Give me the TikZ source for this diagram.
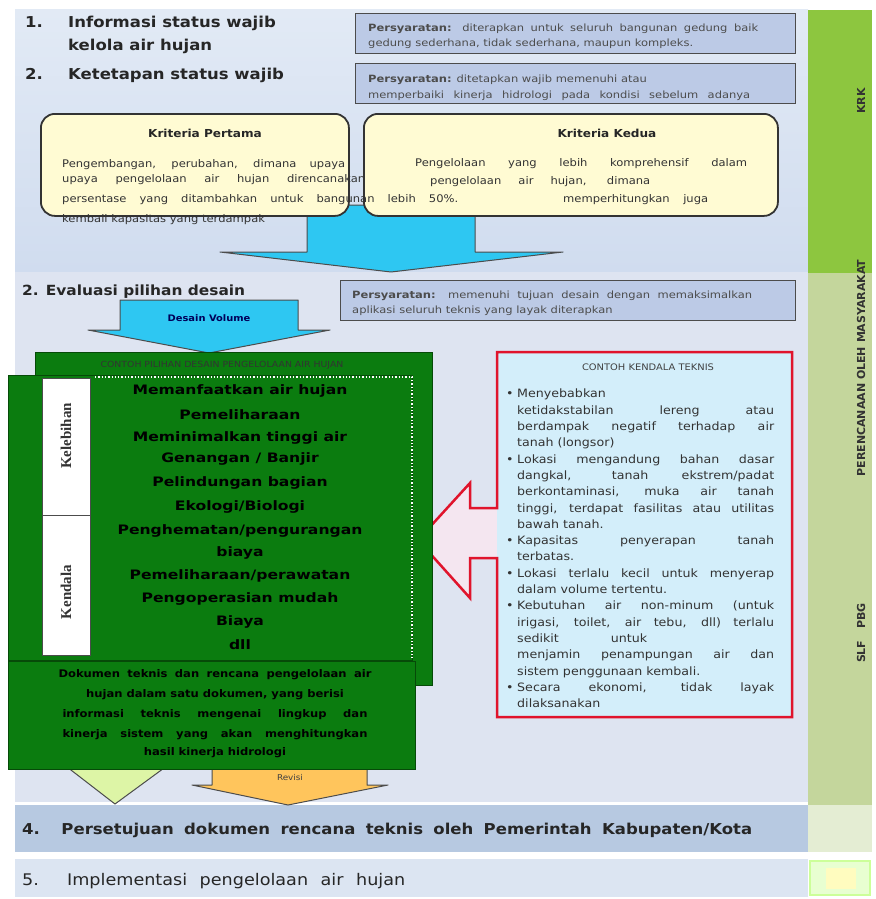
\documentclass[tikz,border=0pt]{standalone}
\usepackage{fontspec}
\setmainfont{DejaVu Sans}
\newfontfamily\serifbf{Liberation Serif}
\newfontfamily\wfA[FakeStretch=1.15]{DejaVu Sans}
\newfontfamily\wfB[FakeStretch=1.2]{DejaVu Sans}
\newfontfamily\wfC[FakeStretch=1.1]{DejaVu Sans}
\definecolor{bandA}{HTML}{D0DCEF}
\definecolor{bandAtop}{HTML}{E2EAF5}
\definecolor{bandB}{HTML}{DEE4F1}
\definecolor{bandC}{HTML}{B7C9E1}
\definecolor{bandD}{HTML}{DCE5F2}
\definecolor{noteF}{HTML}{BCCAE6}
\definecolor{colGa}{HTML}{8DC63F}
\definecolor{colGb}{HTML}{C4D69C}
\definecolor{colGc}{HTML}{E4EDD3}
\definecolor{colGd}{HTML}{CCFF99}
\definecolor{kritF}{HTML}{FFFBD3}
\definecolor{cyanA}{HTML}{2EC7F2}
\definecolor{grn}{HTML}{0B7C0F}
\definecolor{grnD}{HTML}{064A08}
\definecolor{redB}{HTML}{E0142C}
\definecolor{callF}{HTML}{D3EEFA}
\definecolor{pinkF}{HTML}{F4E6F0}
\definecolor{lgA}{HTML}{DDF5A6}
\definecolor{orA}{HTML}{FFC55C}
\newcommand\cbul{\makebox[11pt][l]{\textbullet}}
\newcommand\cnob{\makebox[11pt][l]{}}
\newcommand\cjus[1]{\makebox[257pt][s]{#1}}
\newcommand\clft[1]{\makebox[257pt][l]{#1}}
\begin{document}
\begin{tikzpicture}[x=1pt,y=-1pt,
  head/.style={inner sep=0pt, anchor=base west, text=black!85, font=\wfC\fontsize{15}{17}\selectfont\bfseries},
  notebox/.style={draw=black!70, line width=1.3pt, fill=noteF, anchor=north west, inner sep=0pt},
  notetxt/.style={inner sep=0pt, anchor=base west, text=black!70, font=\wfA\fontsize{10}{12}\selectfont},
  kritbox/.style={draw=black!80, line width=1.8pt, fill=kritF, rounded corners=14pt, anchor=north west, inner sep=0pt},
  ktxt/.style={inner sep=0pt, anchor=base west, text=black!80, font=\wfC\fontsize{10.5}{12}\selectfont},
  ktitle/.style={inner sep=0pt, text=black!85, font=\wfC\fontsize{11}{13}\selectfont\bfseries},
  grnbox/.style={draw=grnD, line width=1pt, fill=grn, anchor=north west, inner sep=0pt},
  lblbox/.style={draw=black!70, line width=0.8pt, fill=white, anchor=north west, inner sep=0pt},
  lbltxt/.style={rotate=90, inner sep=0pt, text=black!80, font=\serifbf\fontsize{15}{17}\selectfont\bfseries},
  gl/.style={inner sep=0pt, text=black, font=\wfB\fontsize{13}{15}\selectfont\bfseries},
  gb/.style={inner sep=0pt, text=black, font=\wfC\fontsize{10.5}{12}\selectfont\bfseries},
  arrowline/.style={draw=black!70, line width=1pt, line join=round},
  coltxt/.style={rotate=90, inner sep=0pt, text=black!80, font=\fontsize{11}{13}\selectfont\bfseries},
]
\useasboundingbox (0,0) rectangle (875,899);
\fill[white] (0,0) rectangle (875,899);
% bands
\shade[top color=bandAtop, bottom color=bandA] (15,10) rectangle (808,272);
\fill[bandB] (15,272) rectangle (808,802);
\fill[bandC] (15,805) rectangle (808,852);
\fill[bandD] (15,859) rectangle (808,897);
% right column
\fill[colGa] (808,10) rectangle (872,273);
\fill[colGb] (808,273) rectangle (872,805);
\fill[colGc] (808,805) rectangle (872,852);
\draw[colGd, line width=2.5pt, fill=colGd!45] (810,861) rectangle (870,895);
\fill[yellow!25] (826,868) rectangle (856,889);
\node[coltxt] (c1) at (861,101) {KRK};
\node[coltxt] (c2) at (861,368) {PERENCANAAN OLEH MASYARAKAT};
\node[coltxt] (c3) at (861,633) {SLF\hspace{12pt}PBG};

% section 1 and 2 headings
\node[head] (h1n) at (25,28) {1.};
\node[head] (h1) at (68,28) {Informasi status wajib};
\node[head] (h1b) at (68,51) {kelola air hujan};
\node[head] (h2n) at (25,80) {2.};
\node[head] (h2) at (68,80) {Ketetapan status wajib};

% note boxes
\node[notebox, minimum width=440pt, minimum height=40pt] (n1) at (355,13) {};
\node[notetxt] (n1a) at (368,32) {\makebox[390pt][s]{\textbf{Persyaratan:} diterapkan untuk seluruh bangunan gedung baik}};
\node[notetxt] (n1b) at (368,47) {gedung sederhana, tidak sederhana, maupun kompleks.};
\node[notebox, minimum width=440pt, minimum height=40pt] (n2) at (355,63) {};
\node[notetxt] (n2a) at (368,82) {\textbf{Persyaratan:} ditetapkan wajib memenuhi atau};
\node[notetxt] (n2b) at (368,98) {\makebox[382pt][s]{memperbaiki kinerja hidrologi pada kondisi sebelum adanya}};

% blue arrow under criteria
\path[arrowline, fill=cyanA] (307,205) -- (475,205) -- (475,252) -- (563,252) -- (391,272) -- (220,252) -- (307,252) -- cycle;

% criteria boxes
\node[kritbox, minimum width=308pt, minimum height=102pt] (k1) at (40,113) {};
\node[kritbox, minimum width=414pt, minimum height=102pt] (k2) at (363,113) {};
\node[ktitle] (kt1) at (205,133) {Kriteria Pertama};
\node[ktitle] (kt2) at (607,133) {Kriteria Kedua};
\node[ktxt] (k1a) at (62,167) {\makebox[283pt][s]{Pengembangan, perubahan, dimana upaya}};
\node[ktxt] (k1b) at (62,182) {\makebox[303pt][s]{upaya pengelolaan air hujan direncanakan}};
\node[ktxt] (k1c) at (62,202) {\makebox[396pt][s]{persentase yang ditambahkan untuk bangunan lebih 50\%.}};
\node[ktxt] (k1d) at (62,222) {kembali kapasitas yang terdampak};
\node[ktxt] (k2a) at (415,166) {\makebox[332pt][s]{Pengelolaan yang lebih komprehensif dalam}};
\node[ktxt] (k2b) at (430,184) {\makebox[220pt][s]{pengelolaan air hujan, dimana}};
\node[ktxt] (k2c) at (563,202) {\makebox[145pt][s]{memperhitungkan juga}};

% section 3
\node[head, font=\wfC\fontsize{14}{16}\selectfont\bfseries] (h3) at (22,295) {2. Evaluasi pilihan desain};
\node[notebox, minimum width=455pt, minimum height=40pt] (n3) at (340,280) {};
\node[notetxt] (n3a) at (352,298) {\makebox[400pt][s]{\textbf{Persyaratan:} memenuhi tujuan desain dengan memaksimalkan}};
\node[notetxt] (n3b) at (352,313) {aplikasi seluruh teknis yang layak diterapkan};

% design volume arrow
\path[arrowline, fill=cyanA] (120,300) -- (298,300) -- (298,330) -- (330,330) -- (209,353) -- (88,330) -- (120,330) -- cycle;
\node[inner sep=0pt, text=blue!35!black, font=\wfC\fontsize{9}{11}\selectfont\bfseries] (dv) at (209,318) {Desain Volume};

% callout
\fill[pinkF] (497,352) -- (792,352) -- (792,717) -- (497,717) -- (497,558) -- (470,558) -- (470,598) -- (418,540) -- (470,483) -- (470,508) -- (497,508) -- cycle;
\fill[callF] (497,352) rectangle (792,717);
\draw[redB, line width=2.5pt, line join=miter] (497,352) -- (792,352) -- (792,717) -- (497,717) -- (497,558) -- (470,558) -- (470,598) -- (418,540) -- (470,483) -- (470,508) -- (497,508) -- cycle;
\node[inner sep=0pt, text=black!75, font=\wfC\fontsize{9}{11}\selectfont] (ctt) at (648,367) {CONTOH KENDALA TEKNIS};
\node[anchor=north west, inner sep=0pt, align=left, text=black!80, font=\wfC\fontsize{11.5}{16.3}\selectfont] (ct) at (506,389) {%
\cbul\clft{Menyebabkan}\\
\cnob\cjus{ketidakstabilan lereng atau}\\
\cnob\cjus{berdampak negatif terhadap air}\\
\cnob\clft{tanah (longsor)}\\
\cbul\cjus{Lokasi mengandung bahan dasar}\\
\cnob\cjus{dangkal, tanah ekstrem/padat}\\
\cnob\cjus{berkontaminasi, muka air tanah}\\
\cnob\cjus{tinggi, terdapat fasilitas atau utilitas}\\
\cnob\clft{bawah tanah.}\\
\cbul\cjus{Kapasitas penyerapan tanah}\\
\cnob\clft{terbatas.}\\
\cbul\cjus{Lokasi terlalu kecil untuk menyerap}\\
\cnob\clft{dalam volume tertentu.}\\
\cbul\cjus{Kebutuhan air non-minum (untuk}\\
\cnob\cjus{irigasi, toilet, air tebu, dll) terlalu}\\
\cnob\makebox[130pt][s]{sedikit untuk}\\
\cnob\cjus{menjamin penampungan air dan}\\
\cnob\clft{sistem penggunaan kembali.}\\
\cbul\cjus{Secara ekonomi, tidak layak}\\
\cnob\clft{dilaksanakan}};

% bottom small arrows (behind green box)
\path[arrowline, fill=lgA] (58,760) -- (175,760) -- (115,804) -- cycle;
\path[arrowline, fill=orA] (212,760) -- (367,760) -- (367,785) -- (388,785) -- (288,805) -- (192,785) -- (212,785) -- cycle;
\node[inner sep=0pt, text=black!75, font=\wfC\fontsize{8}{10}\selectfont] (rv) at (290,778) {Revisi};

% green boxes
\node[grnbox, minimum width=397pt, minimum height=333pt] (gback) at (35,352) {};
\node[inner sep=0pt, text=black!80, font=\wfC\fontsize{8.5}{10}\selectfont] (ght) at (222,365) {CONTOH PILIHAN DESAIN PENGELOLAAN AIR HUJAN};
\node[grnbox, minimum width=404pt, minimum height=285pt] (gfront) at (8,375) {};
\draw[white, dotted, line width=1.3pt] (95,377) -- (412,377) -- (412,658);
\node[lblbox, minimum width=48pt, minimum height=137pt] (lb1) at (42,378) {};
\node[lblbox, minimum width=48pt, minimum height=140pt] (lb2) at (42,515) {};
\node[lbltxt] (lt1) at (66,436) {Kelebihan};
\node[lbltxt] (lt2) at (66,592) {Kendala};
\node[gl] (g1) at (240,391) {Memanfaatkan air hujan};
\node[gl] (g2) at (240,415) {Pemeliharaan};
\node[gl] (g3) at (240,438) {Meminimalkan tinggi air};
\node[gl] (g4) at (240,459) {Genangan / Banjir};
\node[gl] (g5) at (240,483) {Pelindungan bagian};
\node[gl] (g6) at (240,507) {Ekologi/Biologi};
\node[gl] (g7) at (240,531) {Penghematan/pengurangan};
\node[gl] (g8) at (240,553) {biaya};
\node[gl] (g9) at (240,576) {Pemeliharaan/perawatan};
\node[gl] (g10) at (240,599) {Pengoperasian mudah};
\node[gl] (g11) at (240,622) {Biaya};
\node[gl] (g12) at (240,645) {dll};
\node[grnbox, minimum width=407pt, minimum height=108pt] (gbot) at (8,661) {};
\node[gb] (b1) at (215,675) {\makebox[313pt][s]{Dokumen teknis dan rencana pengelolaan air}};
\node[gb] (b2) at (215,695) {hujan dalam satu dokumen, yang berisi};
\node[gb] (b3) at (215,715) {\makebox[305pt][s]{informasi teknis mengenai lingkup dan}};
\node[gb] (b4) at (215,735) {\makebox[305pt][s]{kinerja sistem yang akan menghitungkan}};
\node[gb] (b5) at (215,753) {hasil kinerja hidrologi};

% sections 4 and 5
\node[head, font=\wfC\fontsize{15}{17}\selectfont\bfseries] (h4) at (22,834) {\makebox[730pt][s]{4. Persetujuan dokumen rencana teknis oleh Pemerintah Kabupaten/Kota}};
\node[head, font=\wfC\fontsize{16}{18}\selectfont] (h5) at (22,885) {\makebox[383pt][s]{5. Implementasi pengelolaan air hujan}};
\end{tikzpicture}
\end{document}
